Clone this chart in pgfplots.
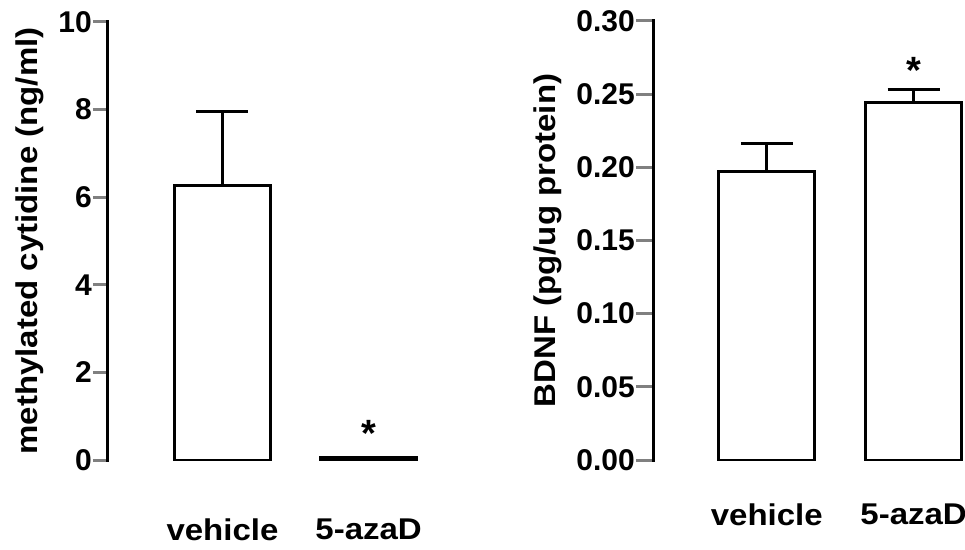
\documentclass[border=0pt]{standalone}
\usepackage{fontspec}
\setmainfont{Liberation Sans}
\newfontfamily\widesans[FakeStretch=1.1]{Liberation Sans}
\usepackage{pgfplots}
\pgfplotsset{compat=1.18}
\newcommand\lbl{\fontsize{30}{36}\selectfont\bfseries}
\newcommand\wlbl{\widesans\fontsize{30}{36}\selectfont\bfseries}
\newcommand\sigfont{\fontsize{38}{40}\selectfont\bfseries}
\pgfplotsset{
  panel/.style={
    scale only axis, anchor=south west,
    ybar, bar width=96pt,
    axis y line*=left, axis x line*=bottom,
    x axis line style={draw=none},
    major x tick style={draw=none},
    y axis line style={line width=3pt, line cap=rect},
    major y tick style={line width=3pt},
    tick align=outside,
    xtick={1,2}, xticklabels={vehicle,5-azaD},
    ymin=0,
    tick label style={font=\lbl},
    /pgf/number format/assume math mode=true,
    yticklabel style={inner sep=0pt, xshift=-1pt},
    xticklabel style={anchor=north, inner sep=0pt, font=\wlbl},
    every axis y label/.style={at={(axis description cs:0,0.5)}, rotate=90, anchor=center, font=\wlbl},
    error bars/y dir=plus, error bars/y explicit,
    error bars/error bar style={line width=3pt, black},
    error bars/error mark options={line width=3pt, mark size=26pt, rotate=90},
  },
  wbar/.style={draw=black, fill=white, line width=3pt},
}
\begin{document}
\begin{tikzpicture}
\useasboundingbox (0,0) rectangle (965pt,549pt);
% left panel
\begin{axis}[panel, at={(107pt,89pt)}, width=323pt, height=438pt,
  xmin=0.21, xmax=2.42, ymax=10, ytick={0,2,4,6,8,10},
  major tick length=14pt,
  xticklabel style={yshift=-45pt},
  ylabel={methylated cytidine (ng/ml)},
  every axis y label/.append style={yshift=77pt}]
\addplot[wbar] coordinates {(1,6.26) +- (0,1.69) (2,0.05) +- (0,0)};
\node[font=\sigfont] at (axis cs:2,0.6) {*};
\end{axis}
% right panel
\begin{axis}[panel, at={(653pt,89pt)}, width=312pt, height=439pt,
  xmin=0.225, xmax=2.35, ymax=0.30, ytick={0,0.05,...,0.30},
  yticklabel style={/pgf/number format/.cd, fixed, fixed zerofill, precision=2},
  major tick length=17pt,
  xticklabel style={yshift=-27pt},
  ylabel={BDNF (pg/ug protein)},
  every axis y label/.append style={yshift=105pt}]
\addplot[wbar] coordinates {(1,0.197) +- (0,0.019) (2,0.244) +- (0,0.009)};
\node[font=\sigfont] at (axis cs:2,0.266) {*};
\end{axis}
\end{tikzpicture}
\end{document}
